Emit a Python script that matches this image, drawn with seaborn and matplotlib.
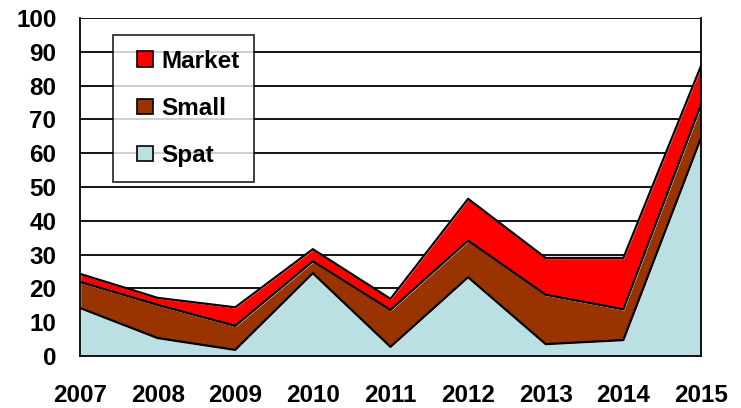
import matplotlib
matplotlib.use("Agg")
import matplotlib.pyplot as plt
import seaborn as sns
import numpy as np
import pandas as pd
from matplotlib.patches import Patch, Rectangle
from matplotlib.legend_handler import HandlerPatch

years = [2007, 2008, 2009, 2010, 2011, 2012, 2013, 2014, 2015]
spat = [14.2, 5.3, 1.8, 24.5, 2.7, 23.3, 3.5, 4.7, 64.5]
small = [7.7, 9.8, 7.1, 3.5, 10.9, 10.8, 14.6, 9.1, 9.8]
market = [2.4, 2.1, 5.5, 3.6, 3.3, 12.4, 10.9, 15.2, 11.5]
series_names = ["Spat", "Small", "Market"]
colors = {"Spat": "#BBE0E3", "Small": "#993300", "Market": "#FF0000"}


class OffsetSquare(HandlerPatch):
    def create_artists(self, legend, orig_handle, xdescent, ydescent,
                       width, height, fontsize, trans):
        size = 0.63 * fontsize
        x = width - size - xdescent
        y = (height - size) / 2 - ydescent
        p = Rectangle((x, y), size, size)
        self.update_prop(p, orig_handle, legend)
        p.set_transform(trans)
        return [p]


sns.set_style("white")
plt.rcParams["font.family"] = ["Liberation Sans", "DejaVu Sans"]
plt.rcParams["font.weight"] = "bold"
plt.rcParams["text.color"] = "black"
plt.rcParams["xtick.color"] = "black"
plt.rcParams["ytick.color"] = "black"

fig = plt.figure(figsize=(7.41, 4.08), dpi=100)
ax = fig.add_axes([80 / 741, 1 - 356 / 408, 621 / 741, 338 / 408])

for y in range(10, 101, 10):
    ax.axhline(y, color="black", lw=1.3, zorder=0)

values = [spat, small, market]
ax.stackplot(years, *values, colors=[colors[n] for n in series_names], zorder=1)

cum = np.cumsum(np.array(values), axis=0)
df = pd.DataFrame({"year": years * 3,
                   "top": np.concatenate(cum),
                   "series": np.repeat(series_names, len(years))})
sns.lineplot(data=df, x="year", y="top", units="series", estimator=None,
             color="black", lw=1.6, ax=ax, zorder=2, legend=False)

ax.set_xlim(2007, 2015)
ax.set_ylim(0, 100)
ax.set_xticks(years)
ax.set_xticklabels([str(y) for y in years])
ax.set_yticks(range(0, 101, 10))
ax.set_xlabel("")
ax.set_ylabel("")
ax.tick_params(axis="both", which="both", direction="out", length=8, width=1.3,
               color="black", labelcolor="black", labelsize=17.5)
ax.tick_params(axis="x", pad=12)
ax.tick_params(axis="y", pad=9)
for lab in ax.get_xticklabels() + ax.get_yticklabels():
    lab.set_fontweight("bold")
for side in ["left", "bottom", "right"]:
    ax.spines[side].set_visible(True)
    ax.spines[side].set_color("black")
    ax.spines[side].set_linewidth(1.3)
ax.spines["top"].set_visible(False)

handles = [Patch(facecolor=colors[n], edgecolor="black", lw=1.2) for n in ["Market", "Small", "Spat"]]
leg = ax.legend(handles, ["Market", "Small", "Spat"], loc="upper left",
                bbox_to_anchor=(33 / 621, 1 - 17 / 338), frameon=True, fancybox=False,
                prop={"size": 17.5, "weight": "bold"}, labelspacing=1.0,
                handlelength=1.03, handleheight=0.65, handletextpad=0.35,
                borderpad=0.6, borderaxespad=0,
                handler_map={Patch: OffsetSquare()})
leg.get_frame().set_edgecolor("black")
leg.get_frame().set_linewidth(1.3)
for t in leg.get_texts():
    t.set_color("black")

fig.savefig("out.png", dpi=100)
